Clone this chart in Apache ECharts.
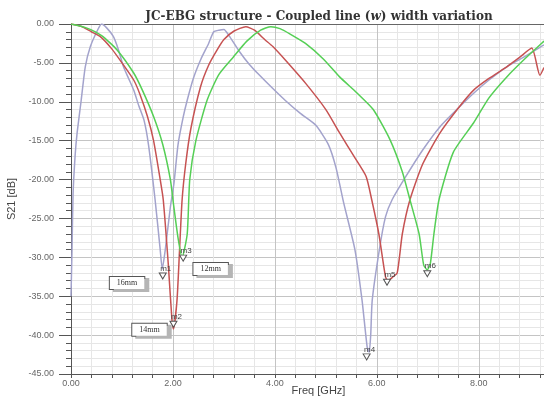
<!DOCTYPE html>
<html style="height: 100%">
  <head>
     <meta charset="utf-8">
  </head>
  <body style="height: 100%; margin: 0; background: #fff">
     <div id="container" style="width: 544px; height: 396px"></div>
     <script type="text/javascript" src="https://cdn.jsdelivr.net/npm/echarts@6/dist/echarts.min.js"></script>
     <script type="text/javascript">
// S21 curves (freq in GHz, S21 in dB)
var freq16 = [0, 0.02, 0.04, 0.08, 0.12, 0.2, 0.28, 0.38, 0.52, 0.6, 0.7, 0.83, 0.93, 1.03, 1.13, 1.23, 1.33, 1.43, 1.52, 1.65, 1.75, 1.79, 1.85, 1.95, 2.02, 2.1, 2.2, 2.28, 2.4, 2.55, 2.7, 2.8, 2.9, 3.0, 3.1, 3.3, 3.5, 3.7, 3.96, 4.2, 4.5, 4.8, 5.05, 5.2, 5.35, 5.57, 5.71, 5.81, 5.85, 5.88, 5.91, 6.05, 6.17, 6.3, 6.57, 6.9, 7.24, 7.6, 7.9, 8.2, 8.55, 8.9, 9.2, 9.28];
var s21_16 = [-35, -29, -22, -17, -14, -9.8, -5.5, -2.9, -0.8, 0, -0.5, -1.6, -3.3, -5.5, -7, -8.5, -10.5, -12.3, -15.5, -22.6, -29, -31.5, -29, -23.5, -20.5, -15.5, -12, -9.8, -7, -4.5, -2.5, -1.0, -0.8, -0.7, -1.5, -3.5, -5.2, -6.6, -8.3, -9.8, -11.5, -13, -15.5, -18.5, -23, -29, -35.5, -41.5, -42.2, -40, -35.5, -29, -24.8, -22.6, -19.6, -16.2, -13.2, -10.8, -8.9, -7.2, -5.5, -4.2, -3.0, -2.7];

var freq14 = [0, 0.2, 0.4, 0.57, 0.8, 1.0, 1.23, 1.35, 1.5, 1.62, 1.75, 1.81, 1.91, 1.98, 2.01, 2.08, 2.13, 2.18, 2.25, 2.35, 2.54, 2.7, 2.87, 3.0, 3.2, 3.43, 3.6, 3.8, 3.96, 4.2, 4.6, 5.0, 5.27, 5.55, 5.79, 5.9, 6.04, 6.17, 6.22, 6.3, 6.4, 6.5, 6.65, 6.9, 7.24, 7.6, 7.9, 8.2, 8.55, 8.8, 9.04, 9.2, 9.28];
var s21_14 = [0, -0.3, -1.0, -1.6, -3.2, -5.0, -7.2, -9, -11.9, -15, -20, -22.6, -31, -38, -39.2, -35.5, -29, -22.6, -18, -13.5, -8.1, -5.3, -3.3, -2, -0.9, -0.35, -0.8, -2, -2.9, -4.6, -7.6, -11, -14, -17, -19.6, -22.6, -27, -32.5, -33, -32.6, -32, -27, -22.6, -18, -14, -10.8, -8.5, -7, -5.5, -4.3, -3.1, -6.6, -5.6];

var freq12 = [0, 0.3, 0.6, 0.9, 1.23, 1.4, 1.62, 1.8, 1.95, 2.0, 2.1, 2.18, 2.28, 2.33, 2.45, 2.67, 2.9, 3.19, 3.45, 3.72, 3.92, 4.1, 4.3, 4.6, 4.95, 5.27, 5.6, 5.93, 6.26, 6.5, 6.65, 6.83, 6.92, 6.99, 7.05, 7.12, 7.22, 7.5, 7.9, 8.2, 8.55, 8.9, 9.23, 9.28];
var s21_12 = [0, -0.5, -1.5, -3.3, -6.3, -8.5, -11.9, -15.5, -20, -22.6, -27.5, -30, -27, -20, -15, -9.8, -6.5, -4.2, -2.2, -0.8, -0.35, -0.6, -1.3, -2.5, -4.5, -6.8, -8.8, -11, -14.9, -19, -22.6, -27, -31, -31.6, -30.8, -27, -22.6, -16.5, -12.7, -9.5, -6.8, -4.5, -2.5, -2.2];

// markers m1..m6
var markerNames = ['m1', 'm2', 'm3', 'm4', 'm5', 'm6'];
var markerFreq = [1.80, 2.01, 2.20, 5.80, 6.20, 6.99];
var markerS21 = [-32.4, -38.6, -30.1, -42.8, -33.2, -32.1];

// width labels
var boxText = ['16mm', '14mm', '12mm'];
var boxFreq = [1.10, 1.54, 2.74];
var boxS21 = [-33.3, -39.3, -31.5];

var xTicks = [0, 2, 4, 6, 8];

function zip(a, b) {
  return a.map(function (v, i) { return [v, b[i]]; });
}

var markerSymbol = {
  symbol: 'triangle', symbolRotate: 180, symbolSize: [7, 6],
  itemStyle: { color: '#fff', borderColor: '#555', borderWidth: 1 },
  label: { show: true, position: 'top', distance: 0, offset: [3, 0], color: '#444', fontSize: 8, fontFamily: 'Liberation Sans' }
};

function markers(idx) {
  return idx.map(function (i) {
    return { name: markerNames[i], coord: [markerFreq[i], markerS21[i]], value: markerNames[i],
             label: { formatter: markerNames[i] } };
  });
}

var boxes = boxText.map(function (t, i) {
  return {
    name: t, coord: [boxFreq[i], boxS21[i]], symbol: 'rect', symbolSize: 1,
    itemStyle: { color: 'rgba(0,0,0,0)' },
    label: {
      show: true, position: 'inside', offset: [0, 0], formatter: t, fontSize: 8, color: '#333',
      fontFamily: 'Liberation Serif', backgroundColor: '#fff', borderColor: '#555', borderWidth: 1,
      padding: [2, 7], shadowColor: '#b5b5b5', shadowOffsetX: 4, shadowOffsetY: 2, shadowBlur: 0
    }
  };
});

var dom = document.getElementById('container');
var myChart = echarts.init(dom);

var option = {
  animation: false,
  backgroundColor: '#fff',
  title: {
    left: 314, top: 6, textAlign: 'center',
    text: '{a|JC-EBG structure - Coupled line (}{i|w}{a|) width variation}',
    textStyle: {
      rich: {
        a: { fontFamily: 'DejaVu Serif', fontWeight: 'bold', fontSize: 12, color: '#333' },
        i: { fontFamily: 'DejaVu Serif', fontStyle: 'italic', fontWeight: 'bold', fontSize: 12, color: '#333' }
      }
    }
  },
  grid: { left: 71, top: 24, right: 0, bottom: 22, outerBoundsMode: 'none', containLabel: false },
  xAxis: [{
    type: 'value', min: 0, max: 9.28, interval: 2,
    name: 'Freq [GHz]', nameLocation: 'middle', nameGap: 11, nameMoveOverlap: false,
    nameTextStyle: { fontSize: 11, color: '#444', fontFamily: 'Liberation Sans', padding: [0, 0, 0, 22] },
    axisLine: { show: true, onZero: false, lineStyle: { color: '#555', width: 1 } },
    axisTick: { show: true, length: 4, lineStyle: { color: '#555' } },
    minorTick: { show: true, splitNumber: 5, length: 4, lineStyle: { color: '#555' } },
    axisLabel: {
      fontSize: 9, color: '#666', margin: 5, fontFamily: 'Liberation Sans', showMaxLabel: false,
      formatter: function (v) { return xTicks.indexOf(v) >= 0 ? v.toFixed(2) : ''; }
    },
    splitLine: { show: true, lineStyle: { color: '#c4c4c4', width: 1 } },
    minorSplitLine: { show: true, lineStyle: { color: '#e6e6e6', width: 1 } }
  }, {
    type: 'value', position: 'top', min: 0, max: 9.28,
    axisLine: { show: true, lineStyle: { color: '#666', width: 1 } },
    axisTick: { show: false }, axisLabel: { show: false }, splitLine: { show: false }
  }],
  yAxis: {
    type: 'value', min: -45, max: 0, interval: 5,
    name: 'S21 [dB]', nameLocation: 'middle', nameGap: 54, nameMoveOverlap: false,
    nameTextStyle: { fontSize: 11, color: '#444', fontFamily: 'Liberation Sans' },
    axisLine: { show: true, lineStyle: { color: '#555', width: 1 } },
    axisTick: { show: true, length: 12, lineStyle: { color: '#555' } },
    minorTick: { show: true, splitNumber: 5, length: 5, lineStyle: { color: '#555' } },
    axisLabel: {
      fontSize: 9, color: '#666', margin: 17, fontFamily: 'Liberation Sans',
      formatter: function (v) { return v.toFixed(2); }
    },
    splitLine: { show: true, lineStyle: { color: '#c4c4c4', width: 1 } },
    minorSplitLine: { show: true, lineStyle: { color: '#e6e6e6', width: 1 } }
  },
  series: [
    {
      name: '16mm', type: 'line', showSymbol: false, smooth: 0.2,
      lineStyle: { color: '#a3a3cc', width: 1.5 }, itemStyle: { color: '#a3a3cc' },
      data: zip(freq16, s21_16),
      markPoint: Object.assign({ data: markers([0, 3]).concat(boxes) }, markerSymbol)
    },
    {
      name: '14mm', type: 'line', showSymbol: false, smooth: 0.2,
      lineStyle: { color: '#c65252', width: 1.5 }, itemStyle: { color: '#c65252' },
      data: zip(freq14, s21_14),
      markPoint: Object.assign({ data: markers([1, 4]) }, markerSymbol)
    },
    {
      name: '12mm', type: 'line', showSymbol: false, smooth: 0.2,
      lineStyle: { color: '#55cf55', width: 1.5 }, itemStyle: { color: '#55cf55' },
      data: zip(freq12, s21_12),
      markPoint: Object.assign({ data: markers([2, 5]) }, markerSymbol)
    }
  ]
};

myChart.setOption(option, true);
     </script>
  </body>
</html>
